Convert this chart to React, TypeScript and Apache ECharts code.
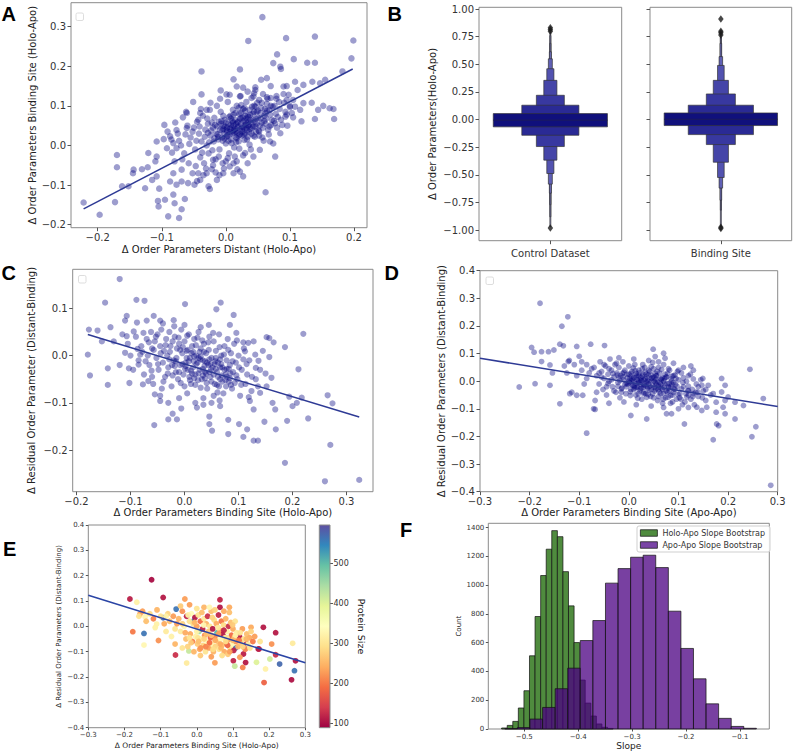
import React, { useEffect, useRef } from "react";
import * as echarts from "echarts";

// ---------------- DATA ----------------
// Panel A: Δ order parameters distant (x) vs binding site (y), Holo-Apo
const aPoints: number[][] = [
  [0.057,0.324],[0.035,0.264],[0.094,0.271],[0.139,0.275],[0.199,0.265],[0.196,0.22],[0.106,0.218],[0.08,0.23],[0.127,0.209],[0.139,0.209],
  [0.074,0.208],[0.085,0.199],[0.086,0.193],[0.022,0.192],[-0.038,0.187],[0.182,0.187],[0.064,0.17],[0.055,0.166],[0.012,0.167],[0.027,0.146],
  [0.017,0.149],[0.046,0.147],[0.095,0.15],[0.121,0.153],[0.135,0.161],[0.155,0.166],[0.147,0.157],[0.108,0.161],[0.07,0.15],[0.09,0.149],
  [0.112,0.14],[0.034,0.136],[-0.008,0.139],[-0.038,0.129],[-0.051,0.11],[0.001,0.129],[0.022,0.124],[0.043,0.124],[0.064,0.122],[0.079,0.125],
  [0.095,0.115],[0.105,0.115],[0.121,0.107],[0.134,0.108],[0.152,0.1],[0.162,0.094],[0.168,0.092],[0.144,0.09],[0.116,0.09],[0.1,0.097],
  [0.169,0.067],[0.139,0.067],[0.118,0.061],[0.105,0.071],[0.093,0.073],[0.077,0.056],[0.085,0.031],[0.077,-0.028],[0.062,-0.118],[-0.061,0.082],
  [-0.067,0.071],[-0.04,0.082],[-0.03,0.09],[-0.043,0.065],[-0.096,0.052],[-0.077,0.039],[-0.061,0.044],[-0.087,0.023],[-0.097,0.016],[-0.108,0.01],
  [-0.082,0.006],[-0.077,-0.007],[-0.092,-0.007],[-0.121,-0.019],[-0.108,-0.028],[-0.11,-0.04],[-0.122,-0.055],[-0.17,-0.024],[-0.17,-0.055],[-0.144,-0.061],
  [-0.108,-0.078],[-0.082,-0.07],[-0.069,-0.061],[-0.087,-0.091],[-0.077,-0.099],[-0.069,-0.091],[-0.059,-0.095],[-0.082,-0.124],[-0.095,-0.137],[-0.104,-0.109],
  [-0.08,-0.146],[-0.069,-0.161],[-0.09,-0.179],[-0.073,-0.183],[-0.105,-0.154],[-0.064,-0.135],[-0.049,-0.099],[-0.04,-0.087],[-0.027,-0.103],[-0.025,-0.11],
  [-0.043,-0.07],[-0.03,-0.07],[-0.014,-0.087],[-0.004,-0.07],[0.012,-0.07],[0.022,-0.066],[0.027,-0.078],[0.006,-0.053],[-0.02,-0.036],[0.03,-0.019],
  [0.017,-0.04],[0.043,-0.028],[0.053,-0.011],[0.069,0.01],[-0.222,-0.144],[-0.197,-0.175],[-0.173,-0.143],[-0.162,-0.103],[-0.152,-0.103],[-0.145,-0.07],
  [-0.131,-0.06],[-0.106,-0.14],[-0.115,-0.087],[-0.126,-0.108],
  [-0.055,0.02],[-0.05,0.045],[-0.048,-0.01],[-0.045,0.06],[-0.042,0.03],[-0.04,-0.03],[-0.038,0.01],[-0.036,0.075],[-0.034,-0.045],[-0.032,0.04],
  [-0.03,0.0],[-0.028,0.055],[-0.027,-0.02],[-0.025,0.09],[-0.024,0.025],[-0.022,-0.06],[-0.02,0.045],[-0.019,0.01],[-0.018,0.07],[-0.016,-0.035],
  [-0.015,0.03],[-0.014,0.1],[-0.012,0.015],[-0.011,0.06],[-0.01,-0.01],[-0.009,0.04],[-0.008,0.085],[-0.006,0.02],[-0.005,-0.045],[-0.004,0.05],
  [-0.003,0.03],[-0.002,0.065],[0.0,0.005],[0.001,0.04],[0.002,0.025],[0.003,0.11],[0.004,0.055],[0.005,-0.02],[0.006,0.035],[0.007,0.075],
  [0.008,0.015],[0.009,0.045],[0.01,0.03],[0.011,0.09],[0.012,0.05],[0.013,-0.005],[0.014,0.065],[0.015,0.035],[0.016,0.02],[0.017,0.1],
  [0.018,0.045],[0.019,0.06],[0.02,0.01],[0.021,0.08],[0.022,0.04],[0.023,0.125],[0.024,0.055],[0.025,0.025],[0.026,0.07],[0.027,-0.025],
  [0.028,0.045],[0.029,0.095],[0.03,0.03],[0.031,0.06],[0.032,0.11],[0.033,0.015],[0.034,0.075],[0.035,0.05],[0.036,0.035],[0.037,0.09],
  [0.038,0.065],[0.039,-0.01],[0.04,0.12],[0.041,0.045],[0.042,0.08],[0.043,0.025],[0.044,0.1],[0.045,0.06],[0.046,0.14],[0.047,0.035],
  [0.048,0.085],[0.05,0.07],[0.052,0.115],[0.053,0.05],[0.055,0.095],[0.057,0.02],[0.058,0.13],[0.06,0.075],[0.062,0.055],[0.064,0.105],
  [0.066,0.04],[0.068,0.09],[0.07,0.12],[0.072,0.065],[0.074,0.005],[0.076,0.1],[0.078,0.08],[0.08,0.045],[0.083,0.11],[0.086,0.065],
  [0.09,0.13],[0.093,0.085],[0.096,0.05],[0.1,0.1],[-0.065,-0.02],[-0.06,0.05],[-0.058,-0.045],[-0.07,0.0],[-0.075,0.03],[-0.08,-0.04],
  [-0.085,0.015],[-0.062,0.085],[-0.052,-0.07],[-0.045,-0.09],[-0.035,-0.075],[-0.02,-0.05],[-0.01,-0.075],[0.0,-0.04],[0.012,-0.045],[0.018,-0.06],
  [-0.046,0.012],[-0.041,0.048],[-0.037,-0.018],[-0.033,0.022],[-0.029,0.068],[-0.026,0.008],[-0.023,0.038],[-0.021,-0.012],[-0.017,0.052],[-0.013,0.028],
  [-0.011,-0.028],[-0.007,0.062],[-0.005,0.012],[-0.001,0.048],[0.001,0.022],[0.003,-0.032],[0.005,0.072],[0.007,0.042],[0.009,0.006],[0.011,0.058],
  [0.013,0.032],[0.015,0.082],[0.017,0.018],[0.019,0.048],[0.021,-0.008],[0.023,0.068],[0.025,0.042],[0.027,0.092],[0.029,0.014],[0.031,0.052],
  [0.033,0.038],[0.035,0.072],[0.037,0.002],[0.039,0.058],[0.041,0.098],[0.043,0.048],[0.045,0.022],[0.047,0.068],[0.049,0.108],[0.051,0.038],
  [0.054,0.082],[0.056,0.058],[0.059,0.012],[0.061,0.092],[0.063,0.068],[0.065,0.118],[0.067,0.028],[0.069,0.078],[0.071,0.052],[0.073,0.098],
  [0.075,0.062],[0.079,0.118],[0.081,0.072],[0.084,0.092],[0.088,0.052],[0.091,0.108],[0.095,0.078],[0.098,0.128],[0.103,0.082],[0.108,0.098],
  [-0.052,0.035],[-0.057,0.004],[-0.063,0.028],[-0.068,-0.035],[-0.073,0.012],[-0.079,0.058],[-0.084,-0.018],[-0.091,0.035],[-0.047,-0.052],[-0.039,0.092],
  [-0.031,-0.058],[-0.024,0.108],[-0.016,-0.068],[-0.009,0.118],[-0.003,-0.058],[0.006,0.128],[0.014,-0.028],[0.024,0.102],[0.034,-0.045],[0.044,0.132],
  [0.002,0.035],[0.008,0.052],[0.012,0.038],[0.018,0.058],[0.022,0.028],[0.028,0.062],[0.032,0.044],[0.038,0.078],[-0.004,0.042],[0.026,0.048],
  [0.002,0.045],[0.006,0.028],[0.01,0.062],[0.014,0.042],[0.018,0.032],[0.022,0.068],[0.026,0.035],[0.03,0.075],[0.034,0.058],[0.038,0.042],
  [0.042,0.065],[0.046,0.048],[0.05,0.088],[0.054,0.068],[0.058,0.045],[0.062,0.082],[-0.002,0.018],[-0.006,0.038],[-0.012,0.022],[-0.018,0.018],
  [0.004,0.012],[0.008,0.068],[0.016,0.055],[0.02,0.025],[0.024,0.082],[0.028,0.028],[0.032,0.068],[0.036,0.052],[0.04,0.03],[0.044,0.085],
  [0.048,0.055],[0.052,0.035],[0.056,0.108],[0.06,0.062],[0.064,0.088],[0.068,0.048],[-0.008,0.055],[-0.014,0.048],[-0.022,0.058],[-0.028,0.032],
  [0.012,0.078],[0.03,0.088],[0.046,0.098],[0.07,0.1],[0.016,0.008],[0.034,0.022],[0.052,0.025],[-0.004,0.075],[0.0,0.058],[0.02,0.095],
];
const aFit: number[][] = [[-0.222, -0.16], [0.198, 0.193]];
const aTicksX = [-0.2, -0.1, 0, 0.1, 0.2];
const aTicksY = [-0.2, -0.1, 0, 0.1, 0.2, 0.3];

// Panel B: letter-value (boxen) levels [low, high, relative width]
const bCategories = ["Control Dataset", "Binding Site"];
const controlLevels: number[][] = [
  [-0.066, 0.054, 0.8], [-0.142, 0.13, 0.4], [-0.244, 0.22, 0.196], [-0.367, 0.355, 0.092],
  [-0.488, 0.46, 0.05], [-0.584, 0.55, 0.028], [-0.666, 0.614, 0.014], [-0.77, 0.69, 0.008],
  [-0.88, 0.76, 0.005], [-0.97, 0.79, 0.003],
];
const bindingLevels: number[][] = [
  [-0.054, 0.06, 0.8], [-0.136, 0.13, 0.46], [-0.226, 0.232, 0.205], [-0.386, 0.355, 0.107],
  [-0.524, 0.49, 0.047], [-0.62, 0.57, 0.025], [-0.73, 0.69, 0.012], [-0.82, 0.74, 0.006],
  [-0.97, 0.76, 0.003],
];
const bMedians = [-0.005, 0.003];
const controlOutliers = [0.8, 0.815, 0.83, -0.98];
const bindingOutliers = [0.91, 0.8, 0.785, 0.765, -0.985, -0.975];
const bTicksY = [-1, -0.75, -0.5, -0.25, 0, 0.25, 0.5, 0.75, 1];

// Panel C
const cPoints: number[][] = [
  [-0.12,0.162],[-0.147,0.112],[-0.089,0.118],[-0.074,0.116],[0.001,0.109],[0.067,0.112],[0.059,0.098],[-0.177,0.055],[-0.161,0.053],[-0.137,0.06],
  [-0.11,0.074],[-0.107,0.084],[-0.088,0.07],[-0.07,0.074],[-0.057,0.084],[-0.045,0.074],[-0.153,0.03],[-0.131,0.03],[-0.107,0.041],[-0.094,0.051],
  [-0.076,0.048],[-0.179,0.002],[-0.175,-0.042],[-0.142,-0.027],[-0.142,-0.062],[-0.103,-0.027],[-0.102,-0.058],[-0.11,0.006],[-0.082,0.002],[-0.087,0.014],
  [-0.085,-0.019],[-0.077,-0.061],[-0.056,-0.147],[-0.067,-0.054],[-0.055,-0.082],[-0.045,-0.096],[-0.042,-0.07],[-0.022,-0.123],[-0.03,-0.135],[-0.014,-0.135],
  [-0.006,-0.112],[0.023,-0.11],[0.035,-0.104],[0.046,-0.129],[0.051,-0.159],[0.046,-0.145],[0.066,-0.107],[0.081,-0.136],[0.081,-0.166],[0.101,-0.145],
  [0.109,-0.172],[0.116,-0.156],[0.128,-0.18],[0.136,-0.18],[0.148,-0.14],[0.169,-0.156],[0.19,-0.138],[0.229,-0.133],[0.2,-0.107],[0.208,-0.1],
  [0.194,-0.087],[0.217,-0.089],[0.265,-0.084],[0.274,-0.101],[0.22,0.046],[0.211,-0.029],[0.186,0.018],[0.152,0.039],[0.157,0.037],[0.165,0.028],
  [0.157,-0.003],[0.15,-0.038],[0.137,-0.011],[0.132,-0.026],[0.161,-0.047],[0.152,-0.065],[0.14,-0.079],[0.163,-0.1],[0.168,-0.114],[0.128,-0.114],
  [0.121,-0.096],[0.091,0.086],[0.084,0.065],[0.096,0.048],[0.118,0.027],[0.112,0.009],[0.109,-0.008],[0.27,-0.189],[0.186,-0.227],[0.26,-0.266],
  [0.3235,-0.263],
  [-0.09,0.04],[-0.085,-0.01],[-0.08,0.02],[-0.075,-0.04],[-0.07,0.035],[-0.068,0.0],[-0.065,-0.02],[-0.062,0.05],[-0.06,0.015],[-0.058,-0.06],
  [-0.055,0.03],[-0.052,-0.005],[-0.05,0.045],[-0.048,-0.03],[-0.045,0.02],[-0.043,0.055],[-0.04,-0.015],[-0.038,0.01],[-0.036,-0.045],[-0.034,0.035],
  [-0.032,0.0],[-0.03,-0.025],[-0.028,0.05],[-0.026,0.02],[-0.024,-0.065],[-0.022,0.03],[-0.02,-0.01],[-0.018,0.04],[-0.016,-0.035],[-0.014,0.015],
  [-0.012,-0.05],[-0.01,0.025],[-0.008,-0.02],[-0.006,0.055],[-0.004,0.005],[-0.002,-0.04],[0.0,0.03],[0.002,-0.015],[0.004,0.01],[0.006,-0.03],
  [0.008,0.045],[0.01,-0.005],[0.012,-0.06],[0.014,0.02],[0.016,-0.025],[0.018,0.035],[0.02,-0.04],[0.022,0.0],[0.024,-0.015],[0.026,0.05],
  [0.028,-0.03],[0.03,0.015],[0.032,-0.05],[0.034,-0.01],[0.036,0.025],[0.038,-0.035],[0.04,0.005],[0.042,-0.07],[0.044,-0.02],[0.046,0.04],
  [0.048,-0.045],[0.05,-0.005],[0.052,-0.025],[0.054,0.03],[0.056,-0.06],[0.058,0.01],[0.06,-0.035],[0.062,-0.015],[0.064,0.045],[0.066,-0.05],
  [0.068,0.0],[0.07,-0.025],[0.072,-0.08],[0.074,0.02],[0.076,-0.04],[0.078,-0.01],[0.08,0.035],[0.082,-0.055],[0.084,-0.02],[0.086,0.005],
  [0.088,-0.07],[0.09,-0.035],[0.092,0.025],[0.095,-0.015],[0.098,-0.05],[0.1,0.0],[0.103,-0.085],[0.106,-0.03],[0.11,0.015],[0.113,-0.06],
  [0.116,-0.04],[0.12,-0.01],[0.124,-0.075],[0.128,0.03],[0.132,-0.05],[0.136,-0.065],[0.14,-0.03],[0.145,0.01],[-0.045,-0.085],[-0.03,-0.1],
  [-0.01,-0.09],[0.005,-0.08],[0.02,-0.1],[0.035,-0.09],[0.05,-0.1],[0.065,-0.095],[-0.02,0.075],[0.0,0.065],[0.03,0.06],[0.045,0.065],
  [-0.1,0.0],[-0.095,-0.03],[-0.105,0.025],[-0.115,0.045],[-0.12,-0.02],
  [-0.078,0.008],[-0.072,-0.012],[-0.066,0.028],[-0.061,-0.032],[-0.057,0.012],[-0.053,0.04],[-0.049,-0.018],[-0.044,0.005],[-0.039,-0.055],[-0.035,0.022],
  [-0.031,-0.038],[-0.027,0.008],[-0.023,-0.02],[-0.019,0.062],[-0.015,-0.005],[-0.011,0.038],[-0.007,-0.058],[-0.003,0.018],[0.001,-0.028],[0.005,0.042],
  [0.009,-0.045],[0.013,0.005],[0.017,-0.012],[0.021,0.022],[0.025,-0.052],[0.029,-0.008],[0.033,0.032],[0.037,-0.022],[0.041,-0.058],[0.045,0.012],
  [0.049,-0.03],[0.053,0.048],[0.057,-0.012],[0.061,-0.078],[0.065,0.018],[0.069,-0.042],[0.073,0.002],[0.077,-0.065],[0.081,0.012],[0.085,-0.038],
  [0.089,-0.012],[0.093,-0.058],[0.097,0.032],[0.101,-0.025],[0.105,-0.062],[0.109,0.028],[0.115,-0.018],[0.119,-0.088],[0.125,-0.045],[0.131,0.002],
  [0.004,-0.005],[0.018,-0.002],[0.028,0.008],[0.038,-0.012],[0.048,-0.018],[0.058,-0.028],[0.068,-0.018],[0.078,-0.028],[0.014,-0.038],[0.034,-0.042],
  [-0.008,0.012],[-0.018,-0.022],[0.024,0.038],[0.044,0.028],[0.064,-0.065],[0.084,-0.048],[-0.06,-0.045],[-0.04,0.068],[0.0,-0.065],[0.054,-0.085],
  [0.002,-0.022],[0.008,-0.012],[0.012,-0.032],[0.018,-0.048],[0.022,-0.018],[0.026,-0.038],[0.03,-0.002],[0.034,-0.028],[0.038,-0.048],[0.042,-0.015],
  [0.046,-0.035],[0.05,-0.055],[0.054,-0.04],[0.058,-0.005],[0.062,-0.045],[0.066,-0.025],[0.07,-0.055],[0.074,-0.03],[0.078,-0.045],[0.082,-0.028],
  [-0.004,-0.018],[-0.01,-0.035],[-0.016,-0.012],[-0.022,-0.042],[-0.028,-0.008],[0.006,0.012],[0.016,0.008],[0.026,-0.005],[0.036,0.008],[0.046,-0.008],
  [0.056,-0.018],[0.066,-0.008],[0.076,-0.052],[0.086,-0.062],[0.096,-0.042],[0.01,-0.052],[0.02,-0.062],[0.03,-0.068],[0.04,-0.038],[0.06,-0.062],
];
const cFit: number[][] = [[-0.179, 0.0445], [0.3235, -0.13]];
const cTicksX = [-0.2, -0.1, 0, 0.1, 0.2, 0.3];
const cTicksY = [-0.2, -0.1, 0, 0.1];

// Panel D
const dPoints: number[][] = [
  [-0.179,0.282],[-0.123,0.233],[-0.135,0.199],[-0.196,0.122],[-0.191,0.105],[-0.176,0.107],[-0.162,0.107],[-0.151,0.113],[-0.139,0.134],[-0.132,0.128],
  [-0.105,0.126],[-0.077,0.134],[-0.049,0.129],[-0.176,0.071],[-0.159,0.059],[-0.154,0.03],[-0.122,0.071],[-0.221,-0.021],[-0.189,-0.009],[-0.159,-0.015],
  [-0.139,-0.082],[-0.119,-0.045],[-0.105,-0.051],[-0.093,-0.051],[-0.085,-0.188],[-0.071,-0.1],[-0.068,-0.102],[0.004,-0.124],[0.036,-0.137],[0.049,0.116],
  [0.07,0.101],[0.073,0.083],[0.053,0.089],[0.076,-0.118],[0.086,-0.118],[0.112,-0.155],[0.149,0.01],[0.147,-0.015],[0.12,-0.033],[0.117,-0.057],
  [0.13,-0.045],[0.17,-0.045],[0.187,0.01],[0.194,-0.015],[0.187,-0.039],[0.176,-0.076],[0.176,-0.112],[0.17,-0.212],[0.177,-0.155],[0.181,-0.161],
  [0.19,-0.094],[0.194,-0.118],[0.214,-0.137],[0.214,-0.076],[0.231,-0.088],[0.244,0.043],[0.248,-0.201],[0.256,-0.165],[0.271,-0.063],[0.194,-0.07],
  [0.2,-0.057],[0.157,-0.094],[0.147,-0.106],[0.137,-0.094],[0.286,-0.377],
  [-0.07,0.05],[-0.065,0.02],[-0.06,-0.01],[-0.058,0.07],[-0.055,0.035],[-0.052,-0.03],[-0.05,0.01],[-0.047,0.055],[-0.045,-0.05],[-0.042,0.025],
  [-0.04,0.0],[-0.038,0.08],[-0.035,0.04],[-0.033,-0.02],[-0.03,0.015],[-0.028,0.06],[-0.026,-0.04],[-0.024,0.03],[-0.022,-0.005],[-0.02,0.05],
  [-0.018,-0.06],[-0.016,0.02],[-0.014,-0.025],[-0.012,0.07],[-0.01,0.005],[-0.008,0.04],[-0.006,-0.045],[-0.004,0.025],[-0.002,-0.01],[0.0,0.055],
  [0.002,0.01],[0.004,-0.03],[0.006,0.035],[0.008,-0.015],[0.01,0.0],[0.012,0.06],[0.014,-0.05],[0.016,0.02],[0.018,-0.02],[0.02,0.04],
  [0.022,-0.035],[0.024,0.005],[0.026,-0.065],[0.028,0.025],[0.03,-0.01],[0.032,0.05],[0.034,-0.045],[0.036,0.015],[0.038,-0.025],[0.04,0.0],
  [0.042,0.035],[0.044,-0.055],[0.046,0.01],[0.048,-0.015],[0.05,0.045],[0.052,-0.035],[0.054,-0.005],[0.056,0.02],[0.058,-0.07],[0.06,-0.02],
  [0.062,0.03],[0.064,-0.045],[0.066,0.005],[0.068,-0.03],[0.07,0.06],[0.072,-0.01],[0.074,-0.06],[0.076,0.015],[0.078,-0.04],[0.08,-0.02],
  [0.082,0.04],[0.084,-0.08],[0.086,0.0],[0.088,-0.05],[0.09,0.02],[0.093,-0.03],[0.096,-0.065],[0.1,0.005],[0.103,-0.045],[0.106,0.03],
  [0.11,-0.02],[0.113,-0.075],[0.116,0.0],[0.12,-0.05],[0.124,0.025],[0.128,-0.03],[0.132,-0.085],[0.136,-0.01],[0.14,-0.055],[0.145,0.005],
  [0.15,-0.035],[0.155,-0.07],[0.16,-0.015],[0.165,-0.05],[-0.08,0.03],[-0.085,0.06],[-0.09,-0.01],[-0.095,0.04],[-0.1,0.09],[-0.105,0.02],
  [-0.11,0.06],[-0.115,-0.04],[-0.12,0.075],[-0.125,0.03],[-0.13,0.055],[-0.068,-0.07],[-0.04,-0.08],[-0.01,-0.075],[0.015,-0.085],[0.045,-0.09],
  [0.07,-0.095],[0.1,-0.1],[0.12,-0.095],[-0.02,0.085],[0.01,0.08],[0.04,0.075],[0.06,0.07],[0.09,0.065],[0.11,0.05],[0.13,0.04],
  [0.02,0.0],[0.025,0.012],[0.015,-0.008],[0.035,-0.004],[0.005,0.018],[-0.005,-0.02],[0.045,0.022],[0.03,-0.022],[0.055,0.008],[0.065,-0.012],
  [-0.055,0.015],[-0.05,0.06],[-0.045,-0.02],[-0.04,0.045],[-0.035,0.005],[-0.03,-0.035],[-0.025,0.065],[-0.02,0.012],[-0.015,-0.04],[-0.01,0.032],
  [-0.005,-0.008],[0.0,0.025],[0.003,-0.052],[0.006,0.002],[0.009,0.048],[0.012,-0.025],[0.015,0.015],[0.018,-0.062],[0.021,0.03],[0.024,-0.012],
  [0.027,0.045],[0.03,-0.04],[0.033,0.008],[0.036,-0.058],[0.039,0.022],[0.042,-0.018],[0.045,0.052],[0.048,-0.045],[0.051,0.0],[0.054,-0.028],
  [0.057,0.035],[0.06,-0.055],[0.063,-0.005],[0.066,0.042],[0.069,-0.065],[0.072,0.01],[0.075,-0.035],[0.078,0.028],[0.081,-0.008],[0.084,-0.052],
  [0.087,0.018],[0.09,-0.04],[0.094,-0.012],[0.098,0.035],[0.102,-0.06],[0.106,-0.028],[0.11,0.012],[0.115,-0.045],[0.12,-0.018],[0.125,-0.065],
  [0.13,0.008],[0.135,-0.04],[0.14,-0.02],[0.148,-0.06],[0.155,-0.03],[-0.06,0.03],[-0.065,-0.04],[-0.075,0.045],[-0.085,0.01],[-0.095,0.07],
  [0.0,0.0],[0.01,0.012],[0.02,-0.005],[0.03,0.005],[0.04,-0.01],[0.05,0.015],[0.06,-0.015],[0.07,0.0],[0.08,-0.025],[0.09,-0.005],
  [0.005,-0.012],[0.015,0.028],[0.025,-0.025],[0.035,0.025],[0.045,-0.03],[0.055,0.02],[0.065,-0.025],[0.075,0.015],[0.085,-0.02],[0.095,0.01],
  [-0.012,0.015],[-0.022,-0.018],[-0.032,0.028],[-0.042,-0.008],[0.028,0.06],[0.048,0.068],[0.068,-0.08],[0.088,-0.075],[0.108,-0.085],[0.125,0.055],
  [0.01,-0.03],[0.02,0.02],[0.03,-0.045],[0.04,0.04],[0.05,-0.06],[0.06,0.05],[0.07,-0.045],[0.08,0.045],[0.1,0.04],[0.12,0.02],
  [0.001,-0.005],[0.007,0.008],[0.011,-0.018],[0.017,0.005],[0.023,-0.028],[0.027,0.018],[0.031,-0.015],[0.037,0.002],[0.041,-0.032],[0.047,0.012],
  [0.051,-0.022],[0.057,0.0],[0.061,-0.038],[0.067,0.012],[0.071,-0.022],[0.077,-0.008],[0.081,-0.035],[0.087,-0.012],[0.091,-0.028],[0.097,-0.018],
  [-0.003,0.012],[-0.008,-0.012],[-0.013,0.028],[-0.018,0.002],[-0.023,0.022],[0.013,0.038],[0.033,0.032],[0.053,0.028],[0.073,0.025],[0.093,0.022],
  [0.003,-0.038],[0.019,-0.045],[0.039,-0.048],[0.059,-0.03],[0.079,-0.058],[0.099,-0.048],[0.109,-0.005],[0.119,-0.035],[0.129,-0.055],[0.139,-0.04],
  [0.025,0.002],[0.035,-0.018],[0.045,0.002],[0.055,-0.012],[0.065,0.008],[0.015,-0.022],[0.005,0.028],[-0.015,-0.028],[0.085,0.008],[0.105,-0.065],
];
const dFit: number[][] = [[-0.3, 0.083], [0.3, -0.0916]];
const dTicksX = [-0.3, -0.2, -0.1, 0, 0.1, 0.2, 0.3];
const dTicksY = [-0.4, -0.3, -0.2, -0.1, 0, 0.1, 0.2, 0.3, 0.4];

// Panel E: [x, y, protein size]
const ePoints: number[][] = [
  [-0.125,0.184,100],[-0.185,0.108,115],[-0.093,0.114,110],[-0.033,0.108,230],[0.064,0.105,120],[0.064,0.075,110],[0.09,0.075,240],[-0.177,-0.021,200],[-0.146,-0.028,560],[-0.146,-0.074,330],
  [-0.093,0.034,570],[-0.057,0.068,560],[-0.059,-0.113,130],[-0.028,-0.145,310],[-0.022,-0.097,420],[0.05,-0.144,230],[0.101,-0.136,120],[0.105,-0.157,420],[0.135,-0.143,110],[0.129,-0.109,115],
  [0.127,-0.162,210],[0.165,-0.142,400],[0.172,-0.089,110],[0.184,-0.004,110],[0.186,-0.222,180],[0.19,-0.168,320],[0.202,-0.129,410],[0.218,-0.112,130],[0.207,-0.07,220],[0.218,-0.025,110],
  [0.229,-0.149,570],[0.265,-0.067,310],[0.262,-0.211,105],[0.27,-0.175,560],[0.273,-0.136,110],[0.107,-0.085,570],[-0.01,0.02,560],[-0.166,0.095,320],[-0.157,0.049,230],[-0.143,0.038,330],
  [-0.111,0.009,320],[-0.106,-0.056,220],[0.119,-0.122,230],[0.138,-0.069,120],[0.15,-0.004,240],[0.17,-0.089,115],
  [-0.05,0.03,250],[-0.045,-0.02,310],[-0.04,0.06,220],[-0.035,0.0,330],[-0.03,-0.05,260],[-0.028,0.04,120],[-0.025,-0.08,280],[-0.02,0.02,300],[-0.018,-0.03,240],[-0.015,0.05,340],
  [-0.012,-0.06,210],[-0.01,0.01,290],[-0.008,-0.1,250],[-0.005,0.035,110],[-0.003,-0.04,320],[0.0,0.0,230],[0.002,-0.07,270],[0.004,0.045,300],[0.006,-0.02,450],[0.008,-0.09,240],
  [0.01,0.02,190],[0.012,-0.05,330],[0.014,0.055,260],[0.016,-0.01,120],[0.018,-0.075,280],[0.02,0.03,310],[0.022,-0.035,220],[0.024,-0.1,300],[0.026,0.01,250],[0.028,-0.06,340],
  [0.03,0.04,130],[0.032,-0.02,270],[0.034,-0.085,230],[0.036,0.0,300],[0.038,-0.045,180],[0.04,0.06,260],[0.042,-0.07,320],[0.044,-0.01,110],[0.046,-0.1,250],[0.048,0.025,290],
  [0.05,-0.04,210],[0.052,-0.08,280],[0.054,0.01,240],[0.056,-0.025,500],[0.058,-0.06,270],[0.06,0.045,120],[0.062,-0.09,300],[0.064,-0.015,230],[0.066,-0.05,330],[0.068,0.02,200],
  [0.07,-0.075,260],[0.072,-0.03,110],[0.074,0.005,290],[0.076,-0.1,240],[0.078,-0.045,310],[0.08,0.03,250],[0.082,-0.065,200],[0.084,-0.02,320],[0.086,-0.11,270],[0.088,0.0,130],
  [0.09,-0.05,230],[0.092,-0.085,300],[0.094,0.015,260],[0.096,-0.035,190],[0.098,-0.07,330],[0.1,-0.01,240],[0.102,-0.095,120],[0.104,-0.045,280],[0.106,0.02,300],[0.108,-0.06,220],
  [0.11,-0.025,310],[0.114,-0.08,250],[0.118,-0.04,110],[0.122,-0.065,270],[0.126,-0.01,230],[0.13,-0.05,300],[0.134,-0.09,210],[0.138,-0.03,260],[0.142,-0.07,320],[0.146,-0.045,240],
  [0.15,-0.02,280],[0.155,-0.06,200],[-0.06,-0.01,300],[-0.065,0.04,230],[-0.07,-0.04,320],[-0.075,0.02,260],[-0.08,0.05,280],[-0.085,-0.02,310],[-0.09,0.01,240],[-0.1,0.04,300],
  [-0.11,0.065,250],[-0.115,-0.005,320],[-0.12,0.03,210],[-0.13,0.05,290],[-0.14,0.02,260],[-0.15,0.06,230],[-0.16,0.04,300],[-0.045,0.08,270],[-0.02,0.085,230],[0.0,0.07,300],
  [0.02,0.075,250],[0.05,0.065,280],[0.075,0.06,240],[0.09,0.055,260],[0.035,0.075,330],[-0.06,-0.07,250],[-0.04,-0.085,300],[0.01,-0.115,270],[0.04,-0.12,230],[0.07,-0.115,290],
  [-0.04,0.01,280],[-0.032,-0.025,240],[-0.024,0.045,320],[-0.016,-0.065,270],[-0.006,0.015,250],[0.003,-0.045,300],[0.011,-0.085,220],[0.019,0.005,330],[0.027,-0.03,260],[0.035,-0.065,190],
  [0.043,0.035,280],[0.051,-0.055,240],[0.059,-0.005,310],[0.067,-0.085,250],[0.075,-0.015,120],[0.083,-0.045,300],[0.091,-0.1,230],[0.099,0.005,270],[0.107,-0.035,320],[0.117,-0.055,200],
  [0.127,-0.08,280],[0.137,-0.05,250],[0.147,-0.085,300],[0.16,-0.04,230],[0.175,-0.06,300],[0.005,-0.06,260],[0.025,-0.08,210],[0.045,-0.09,290],[0.065,-0.07,240],[0.085,-0.075,180],
  [-0.02,-0.045,300],[0.0,-0.02,320],[0.02,-0.05,280],[0.04,-0.035,260],[0.06,-0.03,230],[0.08,-0.06,290],[0.1,-0.055,250],[0.12,-0.025,300],[-0.055,0.01,230],[-0.085,0.04,320],
];
const eFit: number[][] = [[-0.3, 0.1227], [0.3, -0.144]];
const sizeTicks = [100, 200, 300, 400, 500];

// Panel F: histogram bin edges and counts
const greenEdges = [-0.542,-0.5316,-0.5213,-0.511,-0.5006,-0.4903,-0.48,-0.4696,-0.4593,-0.449,-0.4386,-0.4283,-0.418,-0.4076,-0.3973,-0.387,-0.3766,-0.3663,-0.356,-0.3456,-0.3353];
const greenCounts = [7,25,53,146,266,509,782,1067,1250,1379,1337,1094,856,601,340,180,90,35,12,4];
const purpleEdges = [-0.536,-0.5127,-0.4894,-0.466,-0.4427,-0.4194,-0.3961,-0.3728,-0.3494,-0.3261,-0.3028,-0.2795,-0.2562,-0.2328,-0.2095,-0.1862,-0.1629,-0.1396,-0.1162,-0.0929,-0.0696];
const purpleCounts = [3,10,69,150,280,423,615,754,1014,1115,1194,1208,1122,819,560,349,175,74,18,5];
const fTicksX = [-0.5, -0.4, -0.3, -0.2, -0.1];
const fTicksY = [0, 200, 400, 600, 800, 1000, 1200, 1400];

// ---------------- STYLE ----------------
const FONT = "DejaVu Sans";
const FRAME = "#8a8a8a";
const TICK = "#555";
const LABEL = "#333";
const NAVY = "rgba(0,0,128,0.48)";
const FIT = "#2e3a95";
const SPECTRAL = ["#9e0142","#d53e4f","#f46d43","#fdae61","#fee08b","#ffffbf","#e6f598","#abdda4","#66c2a5","#3288bd","#5e4fa2"];
const LEVEL_COLORS = ["#10107c","#2a2a95","#3838a0","#4545a8","#5252b0","#6060b6","#6d6dbc","#7a7ac2","#8585c8","#9090cc"];
const GREEN = "#4f8b3e";
const PURPLE = "rgba(75,0,130,0.75)";

const fmt = (d: number) => (v: number) => {
  const r = Number(v.toFixed(d));
  return (r < 0 ? "\u2212" : "") + Math.abs(r).toFixed(d);
};

function valAxis(p: {
  grid: number; min: number; max: number; ticks: number[]; dec: number; fs: number;
  name?: string; gap?: number; nfs?: number; margin?: number; tickLen?: number;
  hideLabels?: boolean; position?: string; nameRotate?: number;
}) {
  return {
    type: "value",
    gridIndex: p.grid,
    min: p.min,
    max: p.max,
    position: p.position,
    name: p.name || "",
    nameLocation: "middle",
    nameGap: p.gap ?? 20,
    nameRotate: p.nameRotate,
    nameTextStyle: { fontFamily: FONT, fontSize: p.nfs ?? p.fs, color: "#222" },
    axisLine: { show: false, onZero: false },
    splitLine: { show: false },
    axisTick: { show: true, length: p.tickLen ?? 3.5, lineStyle: { color: TICK, width: 1 }, customValues: p.ticks },
    axisLabel: {
      show: !p.hideLabels,
      customValues: p.ticks,
      formatter: fmt(p.dec),
      fontFamily: FONT,
      fontSize: p.fs,
      color: LABEL,
      margin: p.margin ?? 5,
    },
  };
}

const hiddenAxis = (grid: number, min: number, max: number) => ({
  type: "value", gridIndex: grid, min, max, show: false,
});

function buildOption() {
  const grids = [
    { left: 71, top: 2.7, width: 296, height: 225 },        // A
    { left: 479, top: 7.3, width: 142.7, height: 233.4 },   // B1
    { left: 650, top: 7.3, width: 141.7, height: 233.4 },   // B2
    { left: 72.7, top: 269.3, width: 300.3, height: 222.4 },// C
    { left: 480, top: 270.7, width: 297.7, height: 221 },   // D
    { left: 88.3, top: 525, width: 217, height: 202.7 },    // E
    { left: 319.3, top: 525, width: 10.7, height: 202.7 },  // colorbar
    { left: 488.3, top: 523.3, width: 281, height: 206 },   // F
  ].map((g, i) => ({ ...g, show: i !== 6, borderColor: FRAME, borderWidth: 1, backgroundColor: "transparent", containLabel: false }));

  const bCat = (grid: number, cat: string) => ({
    type: "category",
    gridIndex: grid,
    data: [cat],
    boundaryGap: true,
    axisLine: { show: false, onZero: false },
    axisTick: { show: true, alignWithLabel: true, length: 3.5, lineStyle: { color: TICK } },
    axisLabel: { fontFamily: FONT, fontSize: 10, color: LABEL, margin: 8 },
  });

  const xAxis = [
    valAxis({ grid: 0, min: -0.2417, max: 0.2203, ticks: aTicksX, dec: 1, fs: 10, name: "\u0394 Order Parameters Distant (Holo-Apo)", gap: 17 }),
    bCat(1, bCategories[0]),
    bCat(2, bCategories[1]),
    valAxis({ grid: 3, min: -0.207, max: 0.349, ticks: cTicksX, dec: 1, fs: 10, name: "\u0394 Order Parameters Binding Site (Holo-Apo)", gap: 16 }),
    valAxis({ grid: 4, min: -0.3, max: 0.3, ticks: dTicksX, dec: 1, fs: 10, name: "\u0394 Order Parameters Binding Site (Apo-Apo)", gap: 16 }),
    valAxis({ grid: 5, min: -0.3, max: 0.3, ticks: dTicksX, dec: 1, fs: 7, nfs: 7.5, name: "\u0394 Order Parameters Binding Site (Holo-Apo)", gap: 14, margin: 4, tickLen: 2.5 }),
    hiddenAxis(6, 0, 1),
    valAxis({ grid: 7, min: -0.5667, max: -0.0456, ticks: fTicksX, dec: 1, fs: 7, nfs: 9, name: "Slope", gap: 12, margin: 4, tickLen: 2.5 }),
  ];

  const yAxis = [
    valAxis({ grid: 0, min: -0.2076, max: 0.3605, ticks: aTicksY, dec: 1, fs: 10, name: "\u0394 Order Parameters Binding Site (Holo-Apo)", gap: 33 }),
    valAxis({ grid: 1, min: -1.096, max: 1.016, ticks: bTicksY, dec: 2, fs: 10, name: "\u0394 Order Parameters(Holo-Apo)", gap: 42 }),
    valAxis({ grid: 2, min: -1.096, max: 1.016, ticks: bTicksY, dec: 2, fs: 10, hideLabels: true }),
    valAxis({ grid: 3, min: -0.288, max: 0.1826, ticks: cTicksY, dec: 1, fs: 10, name: "\u0394 Residual Order Parameter (Distant-Binding)", gap: 36 }),
    valAxis({ grid: 4, min: -0.4, max: 0.4, ticks: dTicksY, dec: 1, fs: 10, name: "\u0394 Residual Order Parameters (Distant-Binding)", gap: 34 }),
    valAxis({ grid: 5, min: -0.4, max: 0.4, ticks: dTicksY, dec: 1, fs: 7, nfs: 7, name: "\u0394 Residual Order Parameters (Distant-Binding)", gap: 26, margin: 4, tickLen: 2.5 }),
    valAxis({ grid: 6, min: 90, max: 595, ticks: sizeTicks, dec: 0, fs: 8, nfs: 9.5, name: "Protein Size", gap: 26, margin: 3.5, tickLen: 3, position: "right", nameRotate: -90 }),
    valAxis({ grid: 7, min: 0, max: 1430, ticks: fTicksY, dec: 0, fs: 7, nfs: 7, name: "Count", gap: 26, margin: 4, tickLen: 2.5 }),
  ];

  const scatter = (idx: number, data: number[][], size: number) => ({
    type: "scatter", xAxisIndex: idx, yAxisIndex: idx, data, symbolSize: size,
    itemStyle: { color: NAVY }, silent: true,
  });
  const fitLine = (idx: number, data: number[][], color: string, width: number) => ({
    type: "line", xAxisIndex: idx, yAxisIndex: idx, data, symbol: "none", z: 5, silent: true,
    lineStyle: { color, width },
  });

  const boxen = (idx: number, levels: number[][]) => ({
    type: "custom", xAxisIndex: idx, yAxisIndex: idx, silent: true,
    data: levels.map((l, i) => [0, l[0], l[1], l[2], i]),
    encode: { x: 0, y: [1, 2] },
    z: 3,
    renderItem: (params: any, api: any) => {
      const top = api.coord([0, api.value(2)]);
      const bot = api.coord([0, api.value(1)]);
      const bw = api.size([1, 0])[0];
      const w = Math.max(bw * api.value(3), 1);
      const li = api.value(4);
      return {
        type: "rect",
        z2: -li,
        shape: { x: top[0] - w / 2, y: top[1], width: w, height: bot[1] - top[1] },
        style: { fill: LEVEL_COLORS[li], stroke: "rgba(50,50,50,0.85)", lineWidth: 0.8 },
      };
    },
  });
  const median = (idx: number, m: number, frac: number) => ({
    type: "custom", xAxisIndex: idx, yAxisIndex: idx, silent: true, z: 4,
    data: [[0, m, frac]],
    encode: { x: 0, y: 1 },
    renderItem: (params: any, api: any) => {
      const c = api.coord([0, api.value(1)]);
      const w = api.size([1, 0])[0] * api.value(2);
      return {
        type: "line",
        shape: { x1: c[0] - w / 2, y1: c[1], x2: c[0] + w / 2, y2: c[1] },
        style: { stroke: "#1c1c5c", lineWidth: 1 },
      };
    },
  });
  const outliers = (idx: number, vals: number[]) => ({
    type: "scatter", xAxisIndex: idx, yAxisIndex: idx, silent: true, z: 5,
    data: vals.map((v) => [0, v]),
    symbol: "diamond", symbolSize: [5.5, 7.5],
    itemStyle: { color: "#1a1a1a" },
  });

  const hist = (name: string, edges: number[], counts: number[], fill: string, legendColor: string) => ({
    type: "custom", name, xAxisIndex: 7, yAxisIndex: 7, silent: true,
    itemStyle: { color: legendColor },
    data: counts.map((c, i) => [edges[i], edges[i + 1], c]),
    encode: { x: [0, 1], y: 2 },
    renderItem: (params: any, api: any) => {
      const p0 = api.coord([api.value(0), api.value(2)]);
      const p1 = api.coord([api.value(1), 0]);
      return {
        type: "rect",
        shape: { x: p0[0], y: p0[1], width: p1[0] - p0[0], height: p1[1] - p0[1] },
        style: { fill, stroke: "rgba(20,20,20,0.8)", lineWidth: 0.9 },
      };
    },
  });

  const series: any[] = [
    scatter(0, aPoints, 6.5),
    fitLine(0, aFit, FIT, 1.5),
    boxen(1, controlLevels),
    median(1, bMedians[0], controlLevels[0][2]),
    outliers(1, controlOutliers),
    boxen(2, bindingLevels),
    median(2, bMedians[1], bindingLevels[0][2]),
    outliers(2, bindingOutliers),
    scatter(3, cPoints, 6.2),
    fitLine(3, cFit, FIT, 1.5),
    scatter(4, dPoints, 5.8),
    fitLine(4, dFit, FIT, 1.5),
    {
      type: "scatter", xAxisIndex: 5, yAxisIndex: 5, data: ePoints, symbolSize: 5.8, silent: true,
      itemStyle: { opacity: 0.95 },
    },
    fitLine(5, eFit, "#2a44a5", 1.6),
    hist("Holo-Apo Slope Bootstrap", greenEdges, greenCounts, GREEN, GREEN),
    hist("Apo-Apo Slope Bootstrap", purpleEdges, purpleCounts, PURPLE, "#7a44a6"),
  ];

  const letter = (t: string, x: number, y: number) => ({
    type: "text", x, y, silent: true,
    style: { text: t, fontSize: 20, fontWeight: "bold", fontFamily: "Liberation Sans", fill: "#000", verticalAlign: "top" },
  });
  const emptyLegend = (x: number, y: number) => ({
    type: "rect", silent: true, shape: { x, y, width: 7.5, height: 7.5, r: 1.5 },
    style: { fill: "#fff", stroke: "#d4d4d4", lineWidth: 0.8 }, z: 10,
  });

  const stops = SPECTRAL.map((c, i) => ({ offset: i / (SPECTRAL.length - 1), color: c }));

  return {
    animation: false,
    backgroundColor: "#fff",
    grid: grids,
    xAxis,
    yAxis,
    visualMap: {
      type: "continuous", show: false, min: 90, max: 595, dimension: 2, seriesIndex: 12,
      inRange: { color: SPECTRAL },
    },
    legend: {
      show: true,
      left: 637, top: 526,
      orient: "vertical",
      itemWidth: 17, itemHeight: 6.5, itemGap: 4,
      padding: [3, 5, 3, 3],
      borderColor: "#cfcfcf", borderWidth: 1, borderRadius: 2,
      backgroundColor: "rgba(255,255,255,0.85)",
      selectedMode: false,
      textStyle: { fontFamily: FONT, fontSize: 8, color: "#333" },
      data: [
        { name: "Holo-Apo Slope Bootstrap", icon: "rect", itemStyle: { color: GREEN, borderColor: "#222", borderWidth: 0.8 } },
        { name: "Apo-Apo Slope Bootstrap", icon: "rect", itemStyle: { color: "#7a44a6", borderColor: "#222", borderWidth: 0.8 } },
      ],
    },
    graphic: [
      letter("A", 1.5, 3.5),
      letter("B", 387.5, 3.5),
      letter("C", 1.5, 262.5),
      letter("D", 384.5, 262.5),
      letter("E", 3, 538.5),
      letter("F", 400, 519.5),
      emptyLegend(76, 13),
      emptyLegend(78.5, 275.5),
      emptyLegend(486, 277),
      {
        type: "rect", silent: true, z: 10,
        shape: { x: 319.3, y: 525, width: 10.7, height: 202.7 },
        style: { fill: new echarts.graphic.LinearGradient(0, 1, 0, 0, stops), stroke: FRAME, lineWidth: 1 },
      },
    ],
    series,
  };
}

export default function App() {
  const ref = useRef<HTMLDivElement>(null);
  useEffect(() => {
    if (!ref.current) return;
    const chart = echarts.init(ref.current, null, { renderer: "svg" });
    chart.setOption(buildOption() as any);
    return () => chart.dispose();
  }, []);
  return (
    <div
      ref={ref}
      style={{ position: "absolute", left: 0, top: 0, width: 797, height: 751, background: "#fff" }}
    />
  );
}
